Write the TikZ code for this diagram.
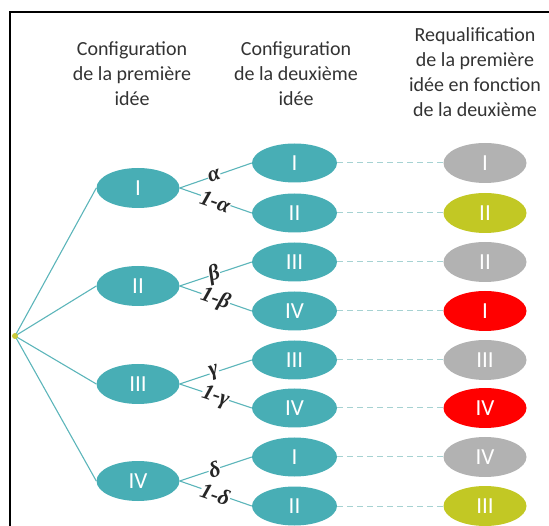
\documentclass[tikz,border=0pt]{standalone}
\usepackage{fontspec}
\setmainfont{Carlito}
\newfontfamily\grk{Liberation Serif}
\usetikzlibrary{shapes.geometric}
\definecolor{tealf}{HTML}{48AEB5}
\definecolor{tealline}{HTML}{5CB5BA}
\definecolor{dashc}{HTML}{A6D2D2}
\definecolor{grayf}{HTML}{B2B2B2}
\definecolor{limef}{HTML}{C2C824}
\definecolor{redf}{HTML}{FF0000}
\definecolor{rootc}{HTML}{C8C83A}
\definecolor{txt}{HTML}{333333}
\tikzset{
  hdr/.style={align=center, text=txt, font=\fontsize{20}{25}\selectfont, inner sep=0pt},
  oval/.style={ellipse, inner sep=0pt, minimum width=84pt, minimum height=40pt, text=white,
               font=\fontsize{23}{23}\selectfont},
  lone/.style={oval, fill=tealf, minimum width=83pt, minimum height=40pt},
  ltwo/.style={oval, fill=tealf, minimum width=85pt, minimum height=39pt},
  lthree/.style={oval, minimum width=83pt, minimum height=40pt},
  conn/.style={draw=tealline, line width=1.1pt},
  dconn/.style={draw=dashc, line width=1pt, dash pattern=on 6pt off 4pt},
  prob/.style={fill=white, inner sep=0.3pt, sloped, text=black!85, font=\grk\bfseries\itshape\fontsize{22}{22}\selectfont},
  probu/.style={prob, pos=0.48},
  probd/.style={prob, pos=0.5, yshift=-1pt}
}
\begin{document}
\begin{tikzpicture}[x=1pt,y=-1pt]
\useasboundingbox (0,0) rectangle (549,526);
\draw[line width=2pt] (10,526) -- (10,12) -- (549,12);

\node[hdr] (h1) at (132,74) {Configuration\\de la première\\idée};
\node[hdr] (h2) at (296,74) {Configuration\\de la deuxième\\idée};
\node[hdr] (h3) at (475,72) {Requalification\\de la première\\idée en fonction\\de la deuxième};

\coordinate (root) at (15,336);

\node[lone] (a1) at (138,188) {I};
\node[lone] (a2) at (138,286) {II};
\node[lone] (a3) at (138,384) {III};
\node[lone] (a4) at (138,481) {IV};

\node[ltwo] (b1) at (294.5,163) {I};
\node[ltwo] (b2) at (294.5,213) {II};
\node[ltwo] (b3) at (294.5,262) {III};
\node[ltwo] (b4) at (294.5,311) {IV};
\node[ltwo] (b5) at (294.5,360) {III};
\node[ltwo] (b6) at (294.5,408) {IV};
\node[ltwo] (b7) at (294.5,457) {I};
\node[ltwo] (b8) at (294.5,506) {II};

\node[lthree, fill=grayf] (c1) at (485,163) {I};
\node[lthree, fill=limef] (c2) at (485,213) {II};
\node[lthree, fill=grayf] (c3) at (485,262) {II};
\node[lthree, fill=redf]  (c4) at (485,311) {I};
\node[lthree, fill=grayf] (c5) at (485,360) {III};
\node[lthree, fill=redf]  (c6) at (485,408) {IV};
\node[lthree, fill=grayf] (c7) at (485,457) {IV};
\node[lthree, fill=limef] (c8) at (485,506) {III};

\foreach \i in {1,...,4} \draw[conn] (root) -- (a\i.west);

\draw[conn] (a1.east) -- node[probu] {α} (b1.west);
\draw[conn] (a1.east) -- node[probd] {1-α} (b2.west);
\draw[conn] (a2.east) -- node[probu] {β} (b3.west);
\draw[conn] (a2.east) -- node[probd] {1-β} (b4.west);
\draw[conn] (a3.east) -- node[probu] {γ} (b5.west);
\draw[conn] (a3.east) -- node[probd] {1-γ} (b6.west);
\draw[conn] (a4.east) -- node[probu] {δ} (b7.west);
\draw[conn] (a4.east) -- node[probd] {1-δ} (b8.west);

\foreach \i in {1,...,8} \draw[dconn] (b\i.east) -- (c\i.west);

\fill[rootc] (root) circle (3pt);
\end{tikzpicture}
\end{document}
